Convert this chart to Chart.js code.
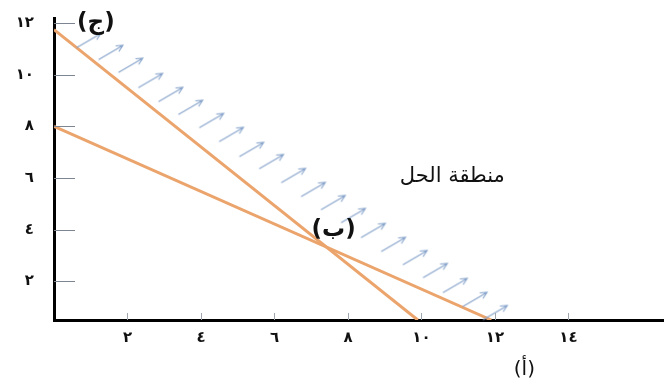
<!DOCTYPE html>
<html>
<head>
<meta charset="utf-8">
<script src="https://cdn.jsdelivr.net/npm/chart.js@4"></script>
<style>
html, body { margin: 0; padding: 0; background: #fff; }
#wrap { width: 664px; height: 387px; }
</style>
</head>
<body>
<div id="wrap"><canvas id="lpChart"></canvas></div>
<script>
// tick values (shown with Arabic-Indic digits)
var xTicks = [2, 4, 6, 8, 10, 12, 14];
var yTicks = [2, 4, 6, 8, 10, 12];
var arabicDigits = ['٠', '١', '٢', '٣', '٤', '٥', '٦', '٧', '٨', '٩'];

// the two constraint lines
var lineOneX = [0, 9.9];
var lineOneY = [11.75, 0.5];
var lineTwoX = [0, 11.9];
var lineTwoY = [8, 0.5];

// centres of the little arrows pointing into the solution region
var arrowX = [0.95, 1.55, 2.09, 2.63, 3.18, 3.72, 4.29, 4.83, 5.38, 5.92, 6.52,
              7.06, 7.60, 8.15, 8.69, 9.24, 9.83, 10.38, 10.92, 11.46, 12.01];
var arrowY = [11.33, 10.87, 10.37, 9.78, 9.24, 8.74, 8.23, 7.69, 7.11, 6.64, 6.10,
              5.56, 5.05, 4.55, 3.97, 3.43, 2.92, 2.42, 1.84, 1.30, 0.79];

function toArabic(n) {
    return String(n).replace(/\d/g, function(d) { return arabicDigits[d]; });
}

function points(xs, ys) {
    return xs.map(function(x, i) { return {x: x, y: ys[i]}; });
}

// arrow glyph used as point style
function makeArrow() {
    var c = document.createElement('canvas');
    c.width = 30;
    c.height = 20;
    var g = c.getContext('2d');
    g.strokeStyle = '#87a3cb';
    g.lineWidth = 1.1;
    g.lineCap = 'round';
    var tx = 3, ty = 17, hx = 27, hy = 3;
    var ang = Math.atan2(hy - ty, hx - tx);
    g.beginPath();
    g.moveTo(tx, ty);
    g.lineTo(hx, hy);
    g.moveTo(hx - 7 * Math.cos(ang - 0.45), hy - 7 * Math.sin(ang - 0.45));
    g.lineTo(hx, hy);
    g.lineTo(hx - 7 * Math.cos(ang + 0.45), hy - 7 * Math.sin(ang + 0.45));
    g.stroke();
    return c;
}

var labelsPlugin = {
    id: 'labelsPlugin',
    afterDatasetsDraw: function(chart) {
        var ctx = chart.ctx;
        var xs = chart.scales.x, ys = chart.scales.y;
        var area = chart.chartArea;
        ctx.save();
        // tick marks inside the plot
        ctx.strokeStyle = '#7c8590';
        ctx.lineWidth = 1;
        yTicks.forEach(function(v) {
            var py = Math.round(ys.getPixelForValue(v)) + 0.5;
            ctx.beginPath();
            ctx.moveTo(area.left, py);
            ctx.lineTo(area.left + 21, py);
            ctx.stroke();
        });
        ctx.strokeStyle = '#a0a6ad';
        xTicks.forEach(function(v) {
            var px = Math.round(xs.getPixelForValue(v)) + 0.5;
            ctx.beginPath();
            ctx.moveTo(px, area.bottom);
            ctx.lineTo(px, area.bottom - 7);
            ctx.stroke();
        });
        // annotations
        ctx.fillStyle = '#111';
        ctx.textAlign = 'center';
        ctx.textBaseline = 'middle';
        ctx.font = 'bold 23px "DejaVu Sans"';
        ctx.fillText('(ج)', xs.getPixelForValue(1.14), ys.getPixelForValue(12.0));
        ctx.fillText('(ب)', xs.getPixelForValue(7.61), ys.getPixelForValue(3.99));
        ctx.font = '21px "DejaVu Sans"';
        ctx.fillText('منطقة الحل', xs.getPixelForValue(10.84), ys.getPixelForValue(6.04));
        ctx.font = '20px "DejaVu Sans"';
        ctx.fillText('(أ)', xs.getPixelForValue(12.8), ys.getPixelForValue(-1.44));
        ctx.restore();
    }
};

var lineStyle = {
    showLine: true,
    borderColor: '#eba46c',
    borderWidth: 3,
    pointRadius: 0,
    fill: false
};

var ctx = document.getElementById('lpChart').getContext('2d');
var lpChart = new Chart(ctx, {
    type: 'scatter',
    data: {
        datasets: [
            {
                label: 'arrows',
                data: points(arrowX, arrowY),
                pointStyle: makeArrow(),
                pointRadius: 10,
                clip: false
            },
            Object.assign({label: 'line1', data: points(lineOneX, lineOneY)}, lineStyle),
            Object.assign({label: 'line2', data: points(lineTwoX, lineTwoY)}, lineStyle)
        ]
    },
    options: {
        responsive: true,
        maintainAspectRatio: false,
        animation: false,
        layout: {
            autoPadding: false,
            padding: {top: 18, right: 0, bottom: 0, left: 0}
        },
        plugins: {
            legend: {display: false},
            tooltip: {enabled: false}
        },
        scales: {
            x: {
                type: 'linear',
                min: 0,
                max: 16.6,
                grid: {display: false},
                border: {display: true, color: '#000', width: 3},
                afterBuildTicks: function(scale) {
                    scale.ticks = xTicks.map(function(v) { return {value: v}; });
                },
                afterFit: function(scale) {
                    scale.height = 67;
                    scale.paddingLeft = 0;
                    scale.paddingRight = 0;
                },
                ticks: {
                    color: '#111',
                    padding: 1,
                    maxRotation: 0,
                    font: {family: 'DejaVu Sans', size: 15, weight: 'bold'},
                    callback: function(v) { return toArabic(v); }
                }
            },
            y: {
                type: 'linear',
                min: 0.5,
                max: 12.2,
                grid: {display: false},
                border: {display: true, color: '#000', width: 3},
                afterBuildTicks: function(scale) {
                    scale.ticks = yTicks.map(function(v) { return {value: v}; });
                },
                afterFit: function(scale) {
                    scale.width = 54;
                    scale.paddingTop = 0;
                    scale.paddingBottom = 0;
                },
                ticks: {
                    color: '#111',
                    padding: 12,
                    font: {family: 'DejaVu Sans', size: 15, weight: 'bold'},
                    callback: function(v) { return toArabic(v); }
                }
            }
        }
    },
    plugins: [labelsPlugin]
});
</script>
</body>
</html>
